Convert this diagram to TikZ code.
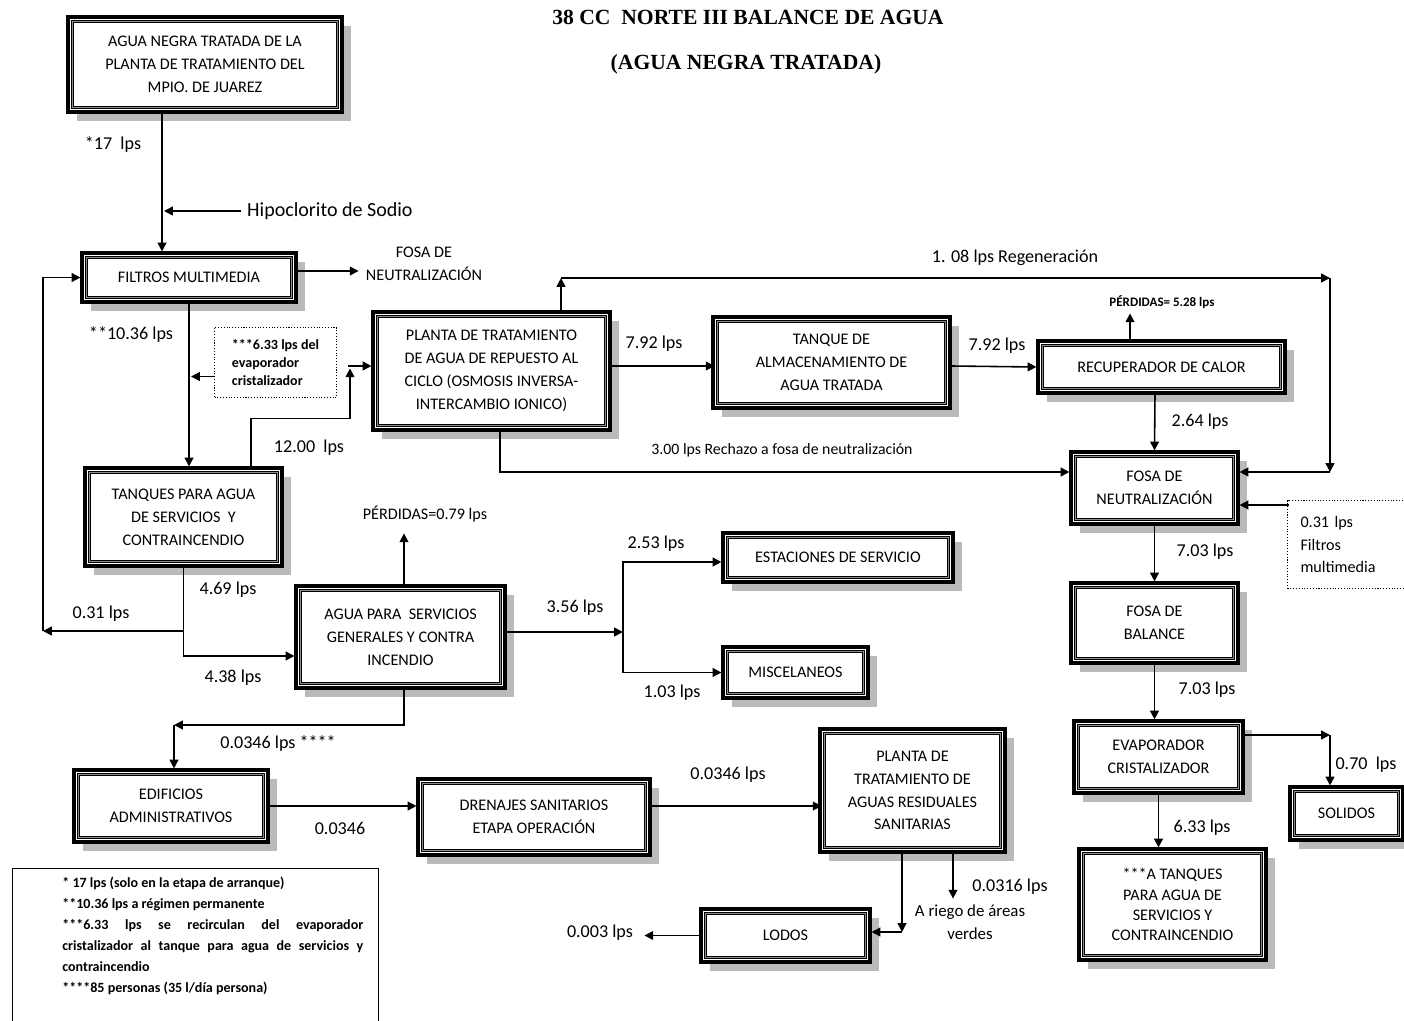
\documentclass[tikz,border=0pt]{standalone}
\usepackage{fontspec}
\setmainfont{Carlito}
\newfontfamily\titulofont{Liberation Serif}
\usetikzlibrary{arrows.meta,shadows}

\begin{document}
\begin{tikzpicture}[
    x=0.02cm, y=-0.02cm,
    every node/.style={font=\fontsize{10.3}{12}\selectfont},
    caja/.style={rectangle, draw, line width=1.8pt, fill=white, align=center,
        font=\fontsize{9.2}{13}\selectfont,
        drop shadow={shadow xshift=0.18cm, shadow yshift=-0.18cm, fill=black!27, opacity=1},
        path picture={\draw[line width=0.7pt, double=black!45, double distance=0.6pt]
            ([shift={(2.6pt,-2.6pt)}]path picture bounding box.north west) rectangle
            ([shift={(-2.6pt,2.6pt)}]path picture bounding box.south east);}},
    flecha/.style={-{Triangle[length=5pt,width=5pt]}, line width=0.9pt},
    linea/.style={line width=0.9pt},
    chico/.style={font=\fontsize{9.2}{13}\selectfont, align=center},
    titulo/.style={font=\titulofont\bfseries\fontsize{12.3}{14}\selectfont}
]
\useasboundingbox (0,0) rectangle (1404,1021);

% Title
\node[titulo] (tit1) at (748,17) {38 CC~~NORTE III BALANCE DE AGUA};
\node[titulo] (tit2) at (746,64) {(AGUA NEGRA TRATADA)};

% Boxes
\node[caja, minimum width=5.48cm, minimum height=1.9cm] (agua) at (205,64.5) {AGUA NEGRA TRATADA DE LA\\PLANTA DE TRATAMIENTO DEL\\MPIO. DE JUAREZ};
\node[caja, minimum width=4.28cm, minimum height=0.98cm] (filtros) at (189,277.5) {FILTROS MULTIMEDIA};
\node[caja, minimum width=4.74cm, minimum height=2.36cm] (planta) at (491.5,371) {PLANTA DE TRATAMIENTO\\DE AGUA DE REPUESTO AL\\CICLO (OSMOSIS INVERSA-\\INTERCAMBIO IONICO)};
\node[caja, minimum width=4.74cm, minimum height=1.82cm] (tanque) at (831.5,362.5) {TANQUE DE\\ALMACENAMIENTO DE\\AGUA TRATADA};
\node[caja, minimum width=4.94cm, minimum height=1.04cm] (recup) at (1161.5,367) {RECUPERADOR DE CALOR};
\node[caja, minimum width=3.94cm, minimum height=1.96cm] (tanques) at (183.5,517) {TANQUES PARA AGUA\\DE SERVICIOS~~Y\\CONTRAINCENDIO};
\node[caja, minimum width=3.34cm, minimum height=1.44cm] (fosaN) at (1154.5,488) {FOSA DE\\NEUTRALIZACIÓN};
\node[caja, minimum width=4.18cm, minimum height=2.04cm] (servicios) at (400.5,637) {AGUA PARA~~SERVICIOS\\GENERALES Y CONTRA\\INCENDIO};
\node[caja, minimum width=4.6cm, minimum height=0.98cm] (estaciones) at (838,557.5) {ESTACIONES DE SERVICIO};
\node[caja, minimum width=2.9cm, minimum height=1.02cm] (misc) at (795.5,672.5) {MISCELANEOS};
\node[caja, minimum width=3.34cm, minimum height=1.6cm] (fosaB) at (1154.5,623) {FOSA DE\\BALANCE};
\node[caja, minimum width=3.38cm, minimum height=1.44cm] (evap) at (1158.5,757) {EVAPORADOR\\CRISTALIZADOR};
\node[caja, minimum width=2.26cm, minimum height=1.06cm] (solidos) at (1346.5,813.5) {SOLIDOS};
\node[caja, minimum width=3.74cm, minimum height=2.22cm, font=\fontsize{9.2}{11.5}\selectfont] (atanques) at (1172.5,904.5) {***A TANQUES\\PARA AGUA DE\\SERVICIOS Y\\CONTRAINCENDIO};
\node[caja, minimum width=3.88cm, minimum height=1.44cm] (edificios) at (171,806) {EDIFICIOS\\ADMINISTRATIVOS};
\node[caja, minimum width=4.64cm, minimum height=1.52cm] (drenajes) at (534,817) {DRENAJES SANITARIOS\\ETAPA OPERACIÓN};
\node[caja, minimum width=3.7cm, minimum height=2.46cm] (ptar) at (912.5,790.5) {PLANTA DE\\TRATAMIENTO DE\\AGUAS RESIDUALES\\SANITARIAS};
\node[caja, minimum width=3.38cm, minimum height=1.06cm] (lodos) at (785.5,935.5) {LODOS};

% Side notes
\node[draw, densely dotted, line width=0.6pt, anchor=north west, align=left,
      minimum width=2.44cm, minimum height=1.4cm, font=\bfseries\fontsize{8}{10.2}\selectfont]
      (nota1) at (214,327) {***6.33 lps del\\evaporador\\cristalizador};
\node[draw, densely dotted, line width=0.6pt, anchor=north west, align=left,
      inner xsep=0.26cm, text width=2.2cm, minimum height=1.76cm, font=\fontsize{9.2}{13}\selectfont]
      (nota2) at (1287,500) {0.31 lps\\Filtros\\multimedia};
\node[draw, line width=0.6pt, anchor=north west, minimum width=7.32cm, minimum height=3.4cm] (notas) at (12,868) {};
\node[anchor=north west, inner sep=0pt, text width=6.02cm, align=justify,
      font=\bfseries\fontsize{8}{11.9}\selectfont] (notastxt) at (62,877)
      {* 17 lps (solo en la etapa de arranque)\\
       {}**10.36 lps a régimen permanente\\
       {}***6.33 lps se recirculan del evaporador\linebreak
       cristalizador al tanque para agua de servicios y\linebreak
       contraincendio\\
       {}****85 personas (35 l/día persona)};

% Flow labels
\node (l17) at (113,145) {*17~~lps};
\node[anchor=west, font=\fontsize{11.4}{13}\selectfont] (hipo) at (241,211) {Hipoclorito de Sodio};
\node[chico] (fosatxt) at (424,264) {FOSA DE\\NEUTRALIZACIÓN};
\node (l1036) at (131,335) {**10.36 lps};
\node (l1200) at (309,448) {12.00~~lps};
\node (l469) at (228,590) {4.69 lps};
\node (l031) at (101,614) {0.31 lps};
\node (l438) at (233,678) {4.38 lps};
\node (lreg) at (1015,258) {1. 08 lps Regeneración};
\node (l792a) at (654,344) {7.92 lps};
\node (l792b) at (997,346) {7.92 lps};
\node[font=\bfseries\fontsize{7.4}{9}\selectfont] (perd1) at (1162,302) {PÉRDIDAS= 5.28 lps};
\node (l264) at (1200,422) {2.64 lps};
\node[font=\fontsize{9}{11}\selectfont] (lrech) at (782,450) {3.00 lps Rechazo a fosa de neutralización};
\node (l703a) at (1205,552) {7.03 lps};
\node (l703b) at (1207,690) {7.03 lps};
\node (l070) at (1366,765) {0.70~~lps};
\node (l633) at (1202,828) {6.33 lps};
\node[font=\fontsize{9.2}{11}\selectfont] (perd2) at (425,514) {PÉRDIDAS=0.79 lps};
\node (l356) at (575,608) {3.56 lps};
\node (l253) at (656,544) {2.53 lps};
\node (l103) at (672,693) {1.03 lps};
\node (l0346a) at (278,744) {0.0346 lps ****};
\node (l0346b) at (340,828) {0.0346};
\node (l0346c) at (728,775) {0.0346 lps};
\node (l0316) at (1010,887) {0.0316 lps};
\node[chico, font=\fontsize{9.6}{13}\selectfont] (riego) at (970,922) {A riego de áreas\\verdes};
\node (l0003) at (600,933) {0.003 lps};

% Bend points
\coordinate (ret) at (43,631);
\coordinate (reg1) at (561,278);
\coordinate (reg2) at (1330,278);
\coordinate (reg3) at (1330,472);
\coordinate (div) at (623,632);
\coordinate (sol1) at (1330,735);
\coordinate (edif1) at (174,725);
\coordinate (lod1) at (902,932);

% Connectors, upper part
\draw[flecha] ([xshift=-0.86cm]agua.south) -- ([xshift=-0.54cm]filtros.north);
\draw[flecha] (hipo.west) -- ++(-77,0);
\draw[flecha] ([yshift=0.13cm]filtros.east) -- ++(61,0);
\draw[flecha] (filtros.south) -- (filtros.south |- tanques.north);
\draw[flecha] ([yshift=-0.28cm]nota1.west) -- ++(-23,0);
\draw[flecha] ([xshift=1.35cm]tanques.north) |- ++(99,-48) -- ++(0,-50);
\draw[flecha] ([yshift=0.1cm]planta.west) ++(-23,0) -- ([yshift=0.1cm]planta.west);
\draw[flecha] (tanques.south) |- (ret);
\draw[flecha] (ret) |- (filtros.west);
\draw[flecha] (tanques.south) |- ([yshift=-0.38cm]servicios.west);
\draw[flecha] ([yshift=0.1cm]planta.east) -- ++(103,0);
\draw[flecha] ([yshift=-0.07cm]tanque.east) -- (recup.west);
\draw[flecha] ([xshift=-0.63cm]recup.north) -- ++(0,-26);
\draw[flecha] ([xshift=-0.13cm]recup.south) -- (fosaN.north);
\draw[flecha] ([xshift=0.17cm]planta.south) |- ([yshift=0.32cm]fosaN.west);
\draw[flecha] ([xshift=1.39cm]planta.north) -- (reg1);
\draw[flecha] (reg1) -- (reg2);
\draw[flecha] (reg2) -- (reg3);
\draw[flecha] (reg3) -- (reg3 -| fosaN.east);
\draw[flecha] ([yshift=-0.34cm]fosaN.east) ++(49,0) -- ([yshift=-0.34cm]fosaN.east);

% Connectors, right column
\draw[flecha] (fosaN.south) -- (fosaB.north);
\draw[flecha] (fosaB.south) -- (fosaB.south |- evap.north);
\draw[flecha] ([yshift=0.44cm]evap.east) -- (sol1);
\draw[flecha] (sol1) -- ([xshift=-0.33cm]solidos.north);
\draw[flecha] (evap.south) -- (evap.south |- atanques.north);

% Connectors, lower part
\draw[flecha] ([xshift=0.07cm]servicios.north) -- ++(0,-51);
\draw[flecha] ([yshift=0.1cm]servicios.east) -- (div);
\draw[flecha] (div) |- ([yshift=-0.09cm]estaciones.west);
\draw[flecha] (div) |- (misc.west);
\draw[flecha] ([xshift=0.07cm]servicios.south) |- (edif1);
\draw[flecha] (edif1) -- ([xshift=0.06cm]edificios.north);
\draw[flecha] (edificios.east) -- (edificios.east -| drenajes.west);
\draw[flecha] ([yshift=0.22cm]drenajes.east) -- ++(170,0);
\draw[flecha] ([xshift=-0.21cm]ptar.south) -- (lod1);
\draw[flecha] (lod1) -- (lod1 -| lodos.east);
\draw[flecha] ([xshift=0.81cm]ptar.south) -- ++(0,45);
\draw[flecha] (lodos.west) -- ++(-55,0);

\end{tikzpicture}
\end{document}
